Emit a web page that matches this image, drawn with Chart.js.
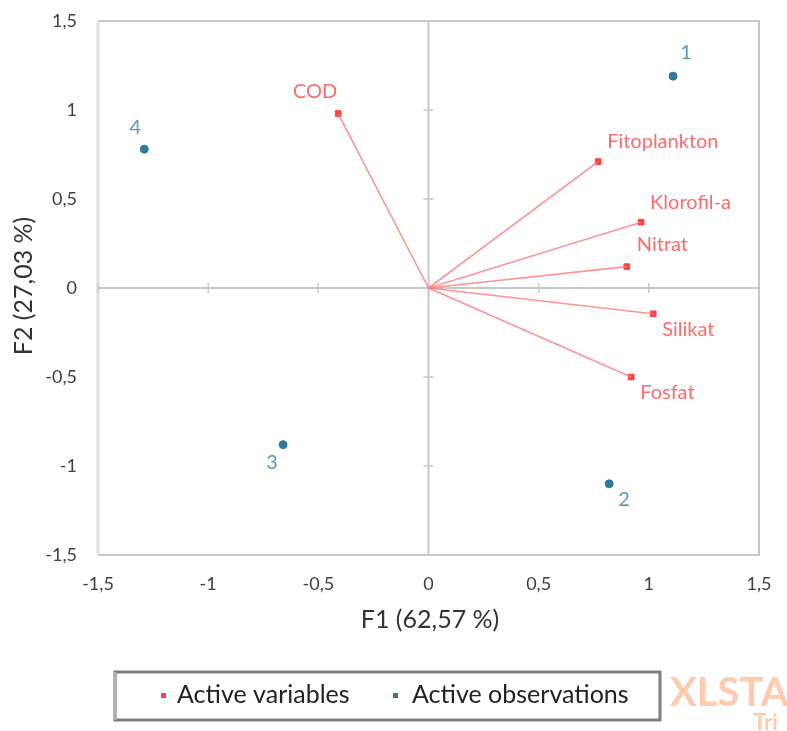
<!DOCTYPE html>
<html>
<head>
<meta charset="utf-8">
<script src="https://cdn.jsdelivr.net/npm/chart.js@4.4.1/dist/chart.umd.min.js"></script>
<style>
  html, body { margin:0; padding:0; background:#fff; }
  #wrap { position:relative; width:787px; height:731px; }
</style>
</head>
<body>
<div id="wrap"><canvas id="biplot"></canvas></div>
<script>
// ── data ──────────────────────────────────────────
const VAR_NAMES = ['COD', 'Fitoplankton', 'Klorofil-a', 'Nitrat', 'Silikat', 'Fosfat'];
const VAR_F1    = [-0.41, 0.77, 0.965, 0.90, 1.02, 0.92];
const VAR_F2    = [0.98, 0.71, 0.37, 0.12, -0.145, -0.50];

const OBS_NAMES = ['1', '2', '3', '4'];
const OBS_F1    = [1.11, 0.82, -0.66, -1.29];
const OBS_F2    = [1.19, -1.10, -0.88, 0.78];

const AXIS_TICKS = [-1.5, -1, -0.5, 0, 0.5, 1, 1.5];

// label placement, pixel offsets from the marker (not data)
const VAR_LABEL_POS = [[-23,-22,'center'],[9,-20,'left'],[9,-20,'left'],[10,-22,'left'],[9,16,'left'],[9,16,'left']];
const OBS_LABEL_POS = [[13,-24],[15,16],[-11,18],[-9,-22]];

const C = {
  red:'#FF4040', redLine:'rgba(255,120,120,0.8)', redText:'#FF6A6A',
  blue:'#2F7A9C', blueText:'#5A9BBB',
  frame:'#C8C8C8', tick:'#404040', title:'#333333'
};
const FONT = "Lato, 'Open Sans', sans-serif";
const fmt = v => String(v).replace('.', ',');

const vectorSets = VAR_NAMES.map((n, i) => ({
  label: n,
  type: 'line',
  data: [{x:0, y:0}, {x:VAR_F1[i], y:VAR_F2[i]}],
  borderColor: C.redLine, borderWidth: 1.6,
  pointRadius: 0, showLine: true, fill: false, tension: 0
}));

// frame, zero axes and small tick marks
const framePlugin = {
  id: 'frame',
  beforeDatasetsDraw(chart) {
    const {ctx, chartArea:a, scales:{x, y}} = chart;
    const x0 = x.getPixelForValue(0), y0 = y.getPixelForValue(0);
    ctx.save();
    ctx.lineWidth = 2;
    ctx.strokeStyle = C.frame;
    ctx.beginPath();
    ctx.moveTo(a.left, a.top); ctx.lineTo(a.right, a.top);
    ctx.lineTo(a.right, a.bottom); ctx.lineTo(a.left, a.bottom);
    ctx.stroke();
    ctx.strokeStyle = '#E0E0E0'; ctx.lineWidth = 3;
    ctx.beginPath(); ctx.moveTo(a.left, a.top); ctx.lineTo(a.left, a.bottom); ctx.stroke();
    ctx.strokeStyle = C.frame; ctx.lineWidth = 2;
    ctx.beginPath();
    ctx.moveTo(x0, a.top); ctx.lineTo(x0, a.bottom);
    ctx.moveTo(a.left, y0); ctx.lineTo(a.right, y0);
    ctx.stroke();
    ctx.lineWidth = 1.5;
    ctx.beginPath();
    AXIS_TICKS.forEach(t => {
      const py = y.getPixelForValue(t), px = x.getPixelForValue(t);
      ctx.moveTo(x0 - 5, py); ctx.lineTo(x0 + 5, py);
      ctx.moveTo(px, y0 - 5); ctx.lineTo(px, y0 + 5);
    });
    ctx.stroke();
    ctx.restore();
  },
  afterDraw(chart) {
    const {ctx} = chart;
    ctx.save();
    ctx.fillStyle = C.title;
    ctx.font = `25px ${FONT}`;
    ctx.textAlign = 'center'; ctx.textBaseline = 'middle';
    ctx.fillText('F1 (62,57 %)', 430, 620);
    ctx.translate(24, 286);
    ctx.rotate(-Math.PI / 2);
    ctx.fillText('F2 (27,03 %)', 0, 0);
    ctx.restore();

    // legend box
    ctx.save();
    ctx.strokeStyle = '#7F7F7F'; ctx.lineWidth = 3;
    ctx.strokeRect(115, 672, 545, 48);
    ctx.strokeStyle = '#B0B0B0';
    ctx.beginPath(); ctx.moveTo(115, 672); ctx.lineTo(115, 720); ctx.stroke();
    ctx.font = `25px ${FONT}`;
    ctx.textBaseline = 'middle'; ctx.textAlign = 'left';
    ctx.fillStyle = C.red;
    ctx.fillRect(161, 693, 5, 5);
    ctx.fillStyle = '#222';
    ctx.fillText('Active variables', 177, 695);
    ctx.fillStyle = C.blue;
    ctx.fillRect(393, 693, 5, 5);
    ctx.fillStyle = '#222';
    ctx.fillText('Active observations', 412, 695);
    // watermark
    ctx.fillStyle = 'rgba(255,160,110,0.55)';
    ctx.font = `bold 40px ${FONT}`;
    ctx.fillText('XLSTA', 670, 693);
    ctx.font = `bold 22px ${FONT}`;
    ctx.fillText('Tri', 753, 723);
    ctx.restore();
  }
};

// point labels, placed at the elements' positions
const labelPlugin = {
  id: 'pointLabels',
  afterDatasetsDraw(chart) {
    const ctx = chart.ctx;
    const nv = VAR_NAMES.length;
    ctx.save();
    ctx.font = `20px ${FONT}`;
    ctx.textBaseline = 'middle';
    chart.getDatasetMeta(nv).data.forEach((el, i) => {
      const [dx, dy, al] = VAR_LABEL_POS[i];
      ctx.fillStyle = C.redText; ctx.textAlign = al;
      ctx.fillText(VAR_NAMES[i], el.x + dx, el.y + dy);
    });
    chart.getDatasetMeta(nv + 1).data.forEach((el, i) => {
      const [dx, dy] = OBS_LABEL_POS[i];
      ctx.fillStyle = C.blueText; ctx.textAlign = 'center';
      ctx.fillText(OBS_NAMES[i], el.x + dx, el.y + dy);
    });
    ctx.restore();
  }
};

new Chart(document.getElementById('biplot'), {
  type: 'scatter',
  data: {
    datasets: [
      ...vectorSets,
      { label:'Active variables', data: VAR_F1.map((v, i) => ({x:v, y:VAR_F2[i]})),
        backgroundColor:C.red, borderColor:C.red, pointRadius:4, pointStyle:'rect' },
      { label:'Active observations', data: OBS_F1.map((v, i) => ({x:v, y:OBS_F2[i]})),
        backgroundColor:C.blue, borderColor:C.blue, pointRadius:4 }
    ]
  },
  options: {
    responsive: true, maintainAspectRatio: false, animation: false,
    layout: { padding: { left:0, right:28, top:21, bottom:0 } },
    plugins: { legend:{display:false}, tooltip:{enabled:false} },
    scales: {
      x: {
        min:-1.5, max:1.5,
        afterBuildTicks: s => { s.ticks = AXIS_TICKS.map(v => ({value:v})); },
        afterFit: s => { s.height = 176; s.paddingLeft = 0; s.paddingRight = 0; },
        grid: { display:false, drawTicks:false }, border: { display:false },
        ticks: { padding:18, color:C.tick, font:{family:FONT, size:18}, callback:fmt, maxRotation:0 }
      },
      y: {
        min:-1.5, max:1.5,
        afterBuildTicks: s => { s.ticks = AXIS_TICKS.map(v => ({value:v})); },
        afterFit: s => { s.width = 98; s.paddingTop = 0; s.paddingBottom = 0; },
        grid: { display:false, drawTicks:false }, border: { display:false },
        ticks: { padding:21, color:C.tick, font:{family:FONT, size:18}, callback:fmt }
      }
    }
  },
  plugins: [framePlugin, labelPlugin]
});
</script>
</body>
</html>
